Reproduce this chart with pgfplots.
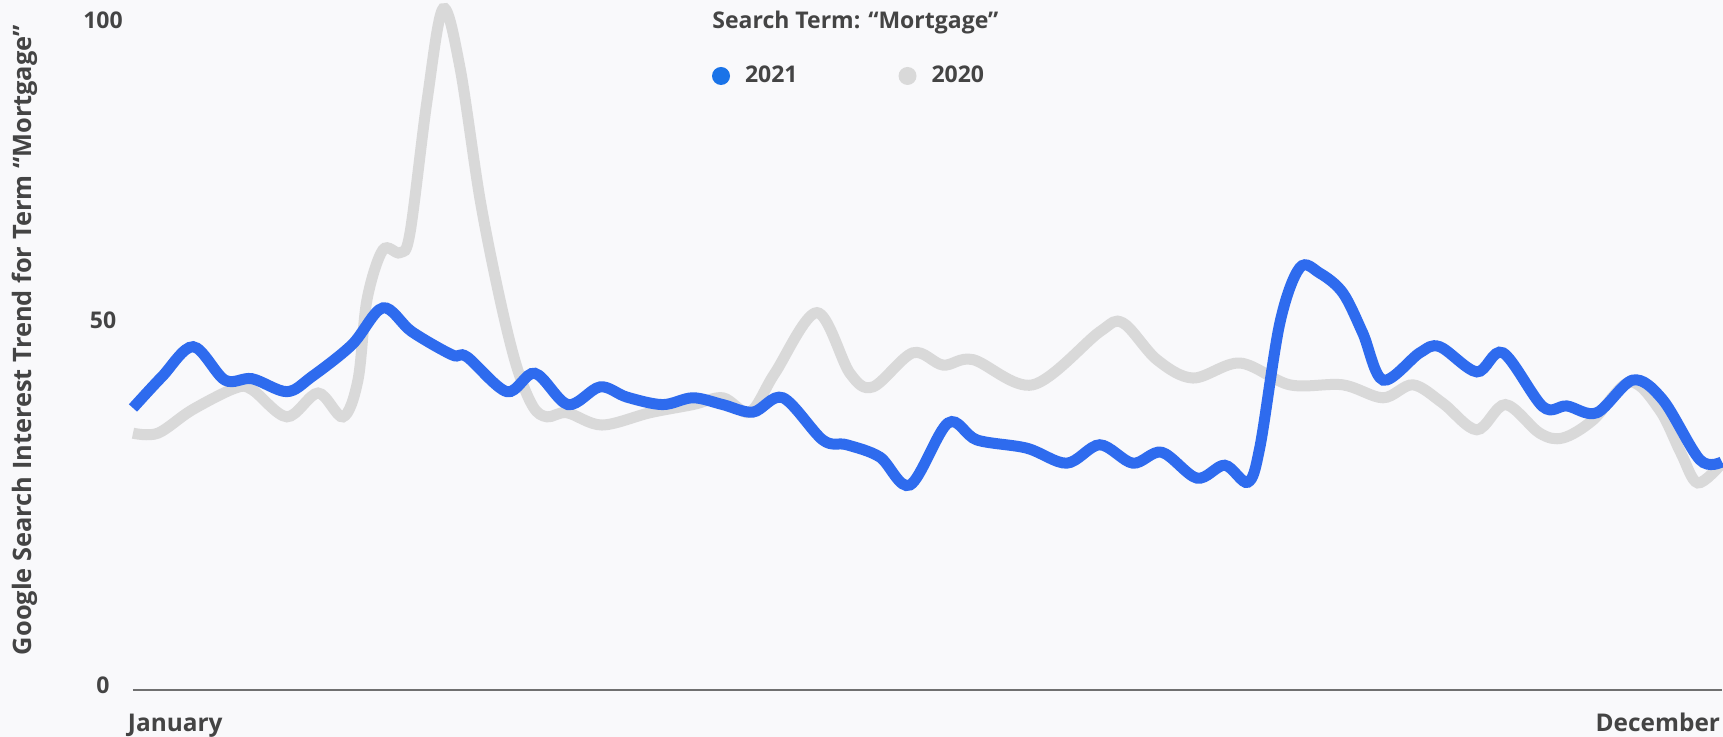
\documentclass[border=0pt]{standalone}
\usepackage{fontspec}
\setmainfont{Open Sans}
\usepackage{pgfplots}
\pgfplotsset{compat=1.18}
\definecolor{bgc}{HTML}{F9F9FB}
\definecolor{textc}{HTML}{444444}
\definecolor{axisc}{HTML}{707070}
\definecolor{line21}{HTML}{2E6BEE}
\definecolor{dot21}{HTML}{1A73E8}
\definecolor{line20}{HTML}{D9D9D9}
\newcommand{\lblfont}{\fontsize{11.5}{14}\selectfont\bfseries}
\newcommand{\xlblfont}{\fontsize{12.2}{14}\selectfont\bfseries}
\newcommand{\ylabfont}{\fontsize{12.7}{15}\selectfont\bfseries}
\begin{document}
\begin{tikzpicture}
\fill[bgc] (-66.5pt,-23.5pt) rectangle (795pt,345pt);
\begin{axis}[
  anchor=south west, at={(0pt,0pt)},
  scale only axis, width=794.5pt, height=345pt,
  xmin=0, xmax=51, ymin=0, ymax=101.3,
  axis lines*=left,
  y axis line style={draw=none},
  x axis line style={draw=axisc, line width=1pt},
  major tick length=0pt,
  /pgf/number format/assume math mode=true,
  xtick={0,51},
  xticklabels={{\raisebox{0pt}[0pt][0pt]{\makebox[0pt][l]{\hspace*{-2.5pt}January}}},{\raisebox{0pt}[0pt][0pt]{\makebox[0pt][r]{December\hspace*{1pt}}}}},
  ytick={0,50,100},
  yticklabels={{\raisebox{-1.6pt}[0pt][0pt]{0}},{\raisebox{10.65pt}[0pt][0pt]{50}},{\raisebox{-9.6pt}[0pt][0pt]{100}}},
  xticklabel style={anchor=north, inner sep=0pt, yshift=-20pt, font=\xlblfont, text=textc},
  yticklabel style={anchor=center, inner sep=0pt, xshift=-15pt, font=\lblfont, text=textc},
  ylabel={Google Search Interest Trend for Term “Mortgage”},
  every axis y label/.style={at={(axis description cs:-0.068,0.507)}, rotate=90, anchor=center, font=\ylabfont, text=textc, inner sep=0pt},
  clip=false,
  reverse legend,
  legend columns=2,
  legend style={draw=none, fill=none, at={(axis description cs:0.3644,0.8899)}, anchor=west,
    inner sep=0pt, outer sep=0pt, font=\lblfont, text=textc,
    nodes={inner sep=0pt},
    /tikz/column sep=7.5pt,
    /tikz/every even column/.append style={column sep=50.5pt}},
]
\addplot[line20, line width=5.5pt, smooth, tension=0.55,
  legend image code/.code={\path[fill=line20, draw=none, line width=0pt] (4.5pt,0pt) circle[radius=4.5pt];}] coordinates {
(0,37.7)(0.8,37.7)(1.89,41.1)(3.27,44.3)(3.82,44.1)(4.94,40.1)(5.94,43.6)(6.74,40.1)(7.22,45.5)(7.51,57.3)(8.02,64.6)(8.57,64.2)(8.89,67.1)(9.44,86.6)(9.95,100)(10.49,91.5)(11.14,72)(11.78,57.3)(12.32,47.4)(12.84,41.6)(13.29,40.1)(13.93,40.7)(15.05,38.9)(16.59,40.7)(17.97,41.9)(18.93,42.9)(19.8,40.8)(20.6,46.5)(21.95,55.4)(23.01,46.5)(23.75,44.5)(25.03,49.5)(26.0,47.7)(26.96,48.5)(28.88,44.8)(31.03,52.6)(31.77,53.9)(32.86,48.5)(34.02,45.8)(35.53,48.0)(37.13,44.8)(38.83,44.8)(40.12,42.9)(41.08,44.8)(42.04,42.1)(43.13,38.2)(44.05,41.9)(45.15,37.7)(45.89,37.0)(46.85,39.6)(48.04,45.2)(49.0,41.1)(49.68,34.8)(50.22,30.4)(51,33.3)
};
\addlegendentry{2020}
\addplot[line21, line width=5.5pt, smooth, tension=0.55,
  legend image code/.code={\path[fill=dot21, draw=none, line width=0pt] (4.5pt,0pt) circle[radius=4.5pt];}] coordinates {
(0,41.4)(0.93,46)(1.93,50.4)(2.95,45.5)(3.82,45.7)(4.94,43.8)(5.74,46)(7.03,50.7)(8.02,56.1)(8.95,52.6)(10.24,49.2)(10.72,48.9)(12.0,43.8)(12.9,46.5)(13.96,41.9)(14.99,44.5)(15.85,43.0)(17.0,41.9)(17.97,42.9)(18.93,41.9)(19.9,40.8)(20.86,42.9)(22.14,36.7)(22.91,36.0)(23.97,34.2)(24.94,30.1)(26.16,39.2)(27.09,36.7)(28.69,35.5)(29.97,33.3)(31.03,36.0)(32.09,33.3)(33.02,34.9)(34.15,31.1)(35.04,33.0)(35.78,30.5)(36.17,35.7)(36.81,53.9)(37.45,62.0)(38.09,61.2)(38.83,58.3)(39.47,52.4)(40.12,45.5)(41.3,49.5)(41.94,50.4)(43.13,46.7)(43.97,49.5)(45.25,41.6)(46.02,41.7)(46.98,40.7)(48.14,45.5)(49.1,42.6)(50.29,33.8)(51,33.5)
};
\addlegendentry{2021}
\node[anchor=west, inner sep=0pt, font=\lblfont, text=textc] at (axis description cs:0.3644,0.968) {Search Term: “Mortgage”};
\end{axis}
\pgfresetboundingbox
\useasboundingbox (-66.5pt,-23.5pt) rectangle (795pt,345pt);
\end{tikzpicture}
\end{document}
